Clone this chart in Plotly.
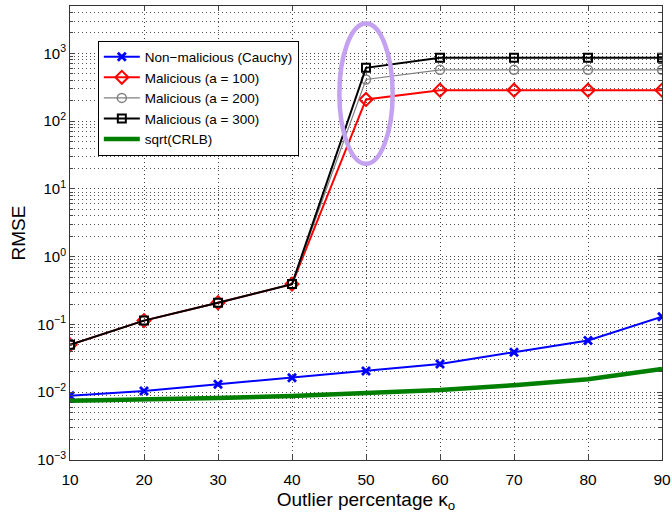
import plotly.graph_objects as go

x_vals = [10, 20, 30, 40, 50, 60, 70, 80, 90]
non_malicious = [0.0089, 0.0104, 0.0131, 0.0164, 0.0206, 0.026, 0.039, 0.058, 0.13]
mal_100 = [0.050, 0.114, 0.209, 0.394, 209, 286, 286, 286, 286]
mal_200 = [0.050, 0.114, 0.209, 0.394, 412, 571, 571, 571, 571]
mal_300 = [0.050, 0.114, 0.209, 0.394, 611, 859, 859, 859, 859]
sqrt_crlb = [0.0075, 0.0078, 0.0082, 0.0088, 0.0096, 0.0108, 0.0127, 0.0155, 0.022]

y_tickvals = [1e-3, 1e-2, 1e-1, 1, 10, 100, 1000]
y_ticktext = ["10<sup>\u22123</sup>", "10<sup>\u22122</sup>", "10<sup>\u22121</sup>",
              "10<sup>0</sup>", "10<sup>1</sup>", "10<sup>2</sup>", "10<sup>3</sup>"]
x_tickvals = [10, 20, 30, 40, 50, 60, 70, 80, 90]

font = "Liberation Sans, Arial, Helvetica, sans-serif"
grid_dash = "1px,3px"

fig = go.Figure()
fig.add_trace(go.Scatter(x=x_vals, y=non_malicious, mode="lines+markers",
                         name="Non\u2212malicious (Cauchy)",
                         line=dict(color="#0000ff", width=2),
                         marker=dict(symbol="x-thin-open", size=8, color="#0000ff",
                                     line=dict(color="#0000ff", width=2.8))))
fig.add_trace(go.Scatter(x=x_vals, y=mal_100, mode="lines+markers",
                         name="Malicious (a = 100)",
                         line=dict(color="#ff0000", width=2),
                         marker=dict(symbol="diamond-open", size=10, color="#ff0000",
                                     line=dict(color="#ff0000", width=2))))
fig.add_trace(go.Scatter(x=x_vals, y=mal_200, mode="lines+markers",
                         name="Malicious (a = 200)",
                         line=dict(color="#7f7f7f", width=1.2),
                         marker=dict(symbol="circle-open", size=9, color="#7f7f7f",
                                     line=dict(color="#7f7f7f", width=1.5))))
fig.add_trace(go.Scatter(x=x_vals, y=mal_300, mode="lines+markers",
                         name="Malicious (a = 300)",
                         line=dict(color="#000000", width=2),
                         marker=dict(symbol="square-open", size=8, color="#000000",
                                     line=dict(color="#000000", width=2))))
fig.add_trace(go.Scatter(x=x_vals, y=sqrt_crlb, mode="lines",
                         name="sqrt(CRLB)",
                         line=dict(color="#007f00", width=4.5)))

# highlight ellipse around the jump at 50 %
fig.add_shape(type="circle", xref="x", yref="y",
              x0=46.4, x1=53.6, y0=23.5, y1=2750,
              line=dict(color="#c4a2f0", width=4.5), layer="above")

fig.update_layout(
    width=672, height=518,
    margin=dict(l=70, r=10, t=6, b=58, autoexpand=False),
    paper_bgcolor="white", plot_bgcolor="white",
    font=dict(family=font, color="#000000", size=15),
    showlegend=True,
    legend=dict(x=0.047, y=0.924, xanchor="left", yanchor="top",
                bgcolor="white", bordercolor="#000000", borderwidth=1,
                font=dict(size=13.5), tracegroupgap=0, itemwidth=36),
)
fig.update_xaxes(
    range=[10, 90], tickvals=x_tickvals, ticks="inside", ticklen=5,
    showline=True, linecolor="#333333", linewidth=1, mirror="ticks",
    showgrid=True, gridcolor="#444444", griddash=grid_dash, gridwidth=1,
    zeroline=False, tickfont=dict(size=15.5), automargin=False,
    ticklabelstandoff=5,
    title=dict(text="Outlier percentage \u03ba<sub>o</sub>", font=dict(size=19), standoff=6),
)
fig.update_yaxes(
    type="log", range=[-3, 3.699], tickvals=y_tickvals, ticktext=y_ticktext,
    ticks="inside", ticklen=5,
    showline=True, linecolor="#333333", linewidth=1, mirror="ticks",
    showgrid=True, gridcolor="#444444", griddash=grid_dash, gridwidth=1,
    zeroline=False, tickfont=dict(size=15), automargin=False,
    minor=dict(dtick="D1", showgrid=True, gridcolor="#555555", griddash=grid_dash,
               gridwidth=1, ticks="inside", ticklen=3),
    title=dict(text="RMSE", font=dict(size=19), standoff=6),
)

fig.write_html("out.html", config={"displayModeBar": False},
               post_script="document.body.style.margin='0px';document.body.style.overflow='hidden';")
